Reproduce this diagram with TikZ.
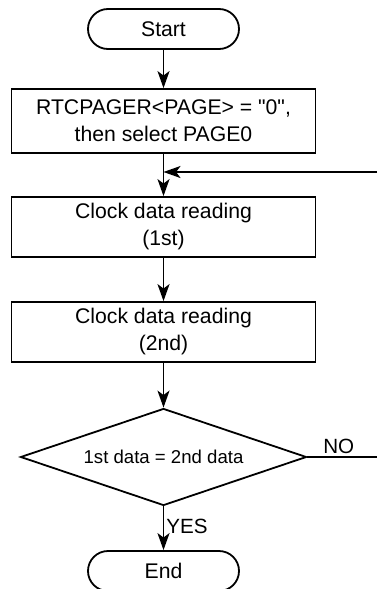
\documentclass[tikz,border=0pt]{standalone}
\usepackage{fontspec}
\setmainfont{Liberation Sans}
\usetikzlibrary{positioning,shapes.geometric,arrows.meta}
\tikzset{
  terminal/.style={
    draw,
    rectangle,
    rounded corners=10pt,
    minimum width=75.5pt,
    minimum height=20pt,
    inner sep=0pt,
    line width=0.9pt,
    font=\fontsize{10.6}{13}\selectfont,
  },
  process/.style={
    draw,
    rectangle,
    minimum width=152pt,
    minimum height=30pt,
    align=center,
    inner sep=0pt,
    line width=0.9pt,
    font=\fontsize{10.6}{13.5}\selectfont,
  },
  decision/.style={
    draw,
    diamond,
    aspect=2.95,
    minimum width=143pt,
    minimum height=48.5pt,
    inner sep=0pt,
    line width=0.9pt,
    font=\fontsize{9.3}{11}\selectfont,
  },
  flow/.style={line width=0.9pt, -{Stealth[length=8.5pt, width=6pt, inset=2.2pt]}},
  link/.style={line width=0.9pt},
  tag/.style={font=\fontsize{10.3}{12}\selectfont, inner sep=1pt},
}
\begin{document}
\begin{tikzpicture}[x=0.5pt, y=-0.5pt]
  \useasboundingbox (0,0) rectangle (377,589);
  \node[terminal] (start) at (163.5, 29) {Start};
  \node[process, minimum height=32pt] (init) at (163.5, 121)
    {RTCPAGER<PAGE> = \textquotedbl 0\textquotedbl,\\ then select PAGE0};
  \node[process] (read1) at (163.5, 227) {Clock data reading\\ (1st)};
  \node[process] (read2) at (163.5, 332) {Clock data reading\\ (2nd)};
  \node[decision] (cmp) at (163.5, 457) {1st data = 2nd data};
  \node[terminal] (end) at (163.5, 571) {End};
  \coordinate (loopin) at (377, 172);
  \coordinate (noout) at (377, 457);
  % main flow
  \draw[flow] (start.south) -- (init.north);
  \draw[flow] (init.south) -- (read1.north);
  \draw[flow] (loopin) -- (loopin -| init.south);
  \draw[flow] (read1.south) -- (read2.north);
  \draw[flow] (read2.south) -- (cmp.north);
  \draw[flow] (cmp.south) -- node[tag, right, pos=0.45]{YES} (end.north);
  \draw[link] (cmp.east) -- node[tag, above, pos=0.45]{NO} (noout);
\end{tikzpicture}
\end{document}
